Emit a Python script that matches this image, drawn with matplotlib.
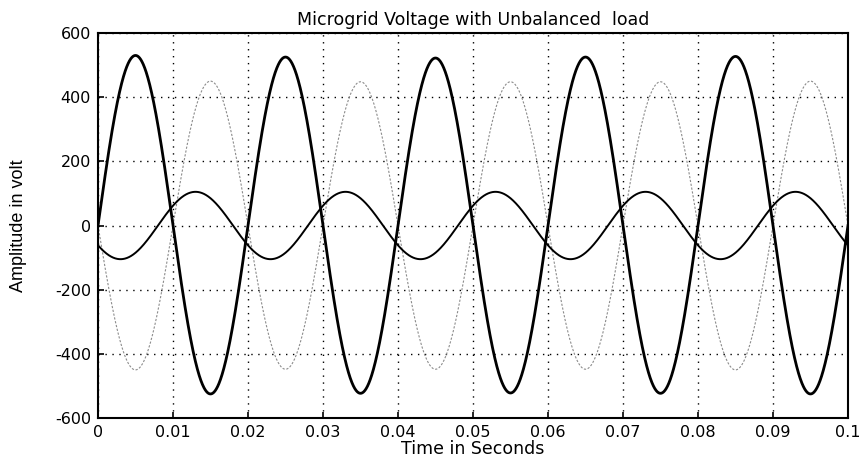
import numpy as np
import matplotlib.pyplot as plt

plt.rcParams['font.family'] = ['DejaVu Sans']
plt.rcParams['axes.unicode_minus'] = False

freq = 50.0
delay_a = 0.0      # thick trace starts rising at t = 0
delay_b = 0.0      # thin trace starts falling at t = 0
delay_c = 0.008    # small trace crosses zero upward at 0.008 s

# half-cycle peak values (volts), one per 0.01 s
peaks_a = [530, -525, 525, -523, 522, -522, 525, -523, 527, -525]
peaks_b = [-450, 450, -448, 448, -448, 448, -448, 448, -450, 450]
peaks_c = [-105, 105, -105, 105, -105, 105, -105, 105, -105, 105, -105]


def trace(peaks, delay, t):
    # sine wave whose amplitude follows the peak read in each half cycle
    ph = 2 * np.pi * freq * (t - delay)
    k = np.floor((t - delay) / 0.01).astype(int)
    k = k - k.min()
    k = np.clip(k, 0, len(peaks) - 1)
    amp = np.abs(np.array(peaks, dtype=float))[k]
    sgn = np.sign(np.array(peaks, dtype=float))[k]
    return amp * np.abs(np.sin(ph)) * sgn


t = np.linspace(0, 0.1, 4001)
va = trace(peaks_a, delay_a, t)
vb = trace(peaks_b, delay_b, t)
vc = trace(peaks_c, delay_c, t)

fig = plt.figure(figsize=(8.67, 4.63), dpi=100)
ax = fig.add_axes([98 / 867, 1 - 418 / 463, 750 / 867, 385 / 463])

ax.plot(t, vb, color='0.55', lw=0.8, ls=(0, (2, 1.5)))
ax.plot(t, vc, color='black', lw=1.4)
ax.plot(t, va, color='black', lw=2.0)

ax.set_xlim(0, 0.1)
ax.set_ylim(-600, 600)
ax.set_xticks(np.arange(0, 0.11, 0.01))
ax.set_xticklabels(['0', '0.01', '0.02', '0.03', '0.04', '0.05', '0.06',
                    '0.07', '0.08', '0.09', '0.1'])
ax.set_yticks(np.arange(-600, 601, 200))
ax.grid(True, color='black', ls=(0, (1, 4)), lw=1.0)
ax.tick_params(direction='in', labelsize=11.5, length=4, width=1.2, pad=5)
for s in ax.spines.values():
    s.set_linewidth(1.5)

ax.set_title('Microgrid Voltage with Unbalanced  load', fontsize=12.5, pad=6)
ax.set_xlabel('Time in Seconds', fontsize=12.5, labelpad=0)
ax.set_ylabel('Amplitude in volt', fontsize=13, labelpad=20,
              family=['Liberation Sans'])

fig.savefig('out.png', dpi=100)
